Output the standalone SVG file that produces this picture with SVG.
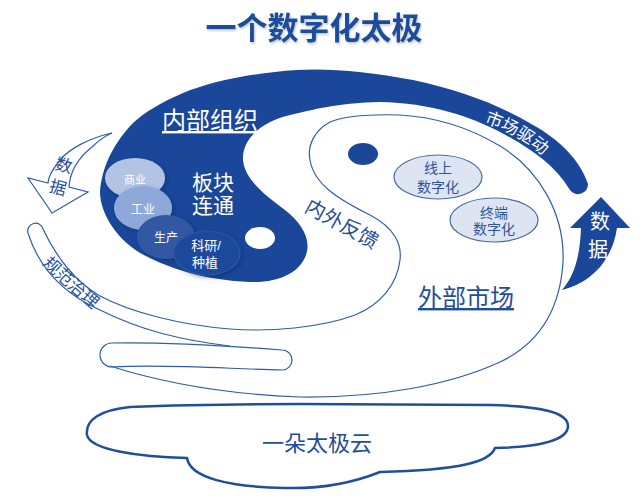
<svg xmlns="http://www.w3.org/2000/svg" width="642" height="498" viewBox="0 0 642 498">
<defs>
<style>
text{font-family:"Liberation Sans","Noto Sans CJK SC",sans-serif;}
.thin{fill:none;stroke:#2f5cb0;stroke-width:1.2;}
.dark{fill:#1a479a;}
.wt{fill:#ffffff;}
.bt{fill:#1f4e9c;}
.lt{fill:#2350a0;}
.sm{fill:#dde5f3;stroke:#4a6aa5;stroke-width:1.2;}
.smt{fill:#2f5597;font-size:14px;text-anchor:middle;}
.ct{fill:#ffffff;text-anchor:middle;}
</style>
<filter id="sh" x="-30%" y="-30%" width="160%" height="160%">
<feDropShadow dx="2" dy="2" stdDeviation="2" flood-color="#102a5c" flood-opacity="0.4"/>
</filter>
<filter id="tsh" x="-10%" y="-30%" width="120%" height="160%">
<feDropShadow dx="1" dy="1.5" stdDeviation="1" flood-color="#000" flood-opacity="0.25"/>
</filter>
<path id="mkt" d="M 452,114 C 497,123 535,141 562,176"/>
<path id="gz" d="M 28,250 Q 62,285 108,322"/>
</defs>

<text id="title" x="314" y="39" text-anchor="middle" font-size="31" font-weight="bold" class="bt" filter="url(#tsh)">一个数字化太极</text>

<g id="outline-yang">
<path class="thin" d="M 110,366 C 160,382 220,394 300,397 C 380,398 450,385 500,362 C 540,343 560,310 563,262 C 565,215 540,170 500,146 C 470,128 435,117 400,115 C 370,114 345,116 330,122 C 315,130 307,145 310,160 C 314,185 340,200 370,215 C 395,228 402,245 400,260 C 397,285 380,305 355,315 C 320,328 270,332 230,329 C 180,325 130,312 100,296 C 75,282 55,255 43,229 A 7,7 0 0 0 28,233 C 38,265 60,292 100,310 C 140,330 180,340 230,346"/>
</g>

<g id="pill">
<path class="thin" fill="#fff" d="M 112,343 C 170,342 230,346 282,350 A 10,10 0 0 1 282,370 C 230,369 170,364 112,367 A 12,12 0 0 1 112,343 Z"/>
</g>

<g id="yin">
<path class="dark" d="M 570,190 A 10,10 0 0 0 588,184 C 580,160 560,140 533,125 C 500,105 460,90 413,80 C 370,72 330,68 297,70 C 250,73 210,82 183,93 C 160,103 145,112 133,123 C 115,142 102,165 100,192 C 100,215 120,245 150,258 C 175,270 205,280 250,282 C 280,283 300,272 306,255 C 312,238 300,222 285,210 C 265,195 245,180 243,160 C 242,140 260,122 290,115 C 320,108 340,103 380,102 C 430,103 470,116 500,132 C 530,148 555,165 570,190 Z"/>
<ellipse cx="260" cy="238" rx="15" ry="11" fill="#fff"/>
<text x="210" y="129" font-size="24" class="wt" text-anchor="middle" text-decoration="underline">内部组织</text>
<text x="213" y="190" font-size="21" class="wt" text-anchor="middle">板块</text>
<text x="213" y="213" font-size="21" class="wt" text-anchor="middle">连通</text>
<text font-size="17" class="wt"><textPath href="#mkt" startOffset="52%" text-anchor="middle">市场驱动</textPath></text>
</g>

<g id="yang-dot">
<ellipse cx="363" cy="154" rx="15" ry="11" class="dark"/>
</g>

<g id="node-shangye">
<ellipse cx="135" cy="178" rx="30" ry="20" fill="#b3c3e4" filter="url(#sh)"/>
<text x="135" y="184" font-size="11" class="ct">商业</text>
</g>
<g id="node-gongye">
<ellipse cx="143" cy="208" rx="29" ry="22" fill="#8ea8d9" filter="url(#sh)"/>
<text x="143" y="214" font-size="12" class="ct">工业</text>
</g>
<g id="node-shengchan">
<ellipse cx="166" cy="237" rx="29" ry="22" fill="#3358a3" filter="url(#sh)"/>
<text x="166" y="242" font-size="12" class="ct">生产</text>
</g>
<g id="node-keyan">
<ellipse cx="207" cy="253" rx="33" ry="22" fill="#1d4a9b" stroke="#2d579f" stroke-width="1.2" filter="url(#sh)"/>
<text x="206" y="250" font-size="13" class="ct">科研/</text>
<text x="205" y="267" font-size="13" class="ct">种植</text>
</g>

<g id="node-xianshang">
<ellipse cx="438" cy="177" rx="44" ry="22" class="sm"/>
<text x="438" y="173" class="smt">线上</text>
<text x="438" y="192" class="smt">数字化</text>
</g>
<g id="node-zhongduan">
<ellipse cx="494" cy="220" rx="44" ry="22" class="sm"/>
<text x="494" y="218" class="smt">终端</text>
<text x="494" y="234" class="smt">数字化</text>
</g>

<g id="label-feedback">
<text transform="translate(342,224) rotate(29)" x="0" y="7" font-size="20" class="bt" text-anchor="middle">内外反馈</text>
</g>
<g id="label-market">
<text x="466" y="306" font-size="24" class="bt" text-anchor="middle" text-decoration="underline">外部市场</text>
</g>
<g id="label-guifan">
<text font-size="17" class="lt"><textPath href="#gz" startOffset="50%" text-anchor="middle">规范治理</textPath></text>
</g>

<g id="connectors">
<path d="M 112,133 C 90,138 70,148 60,160 C 52,170 48,178 48,183 L 28,178 L 52,213 L 88,192 L 69,187 C 70,172 78,158 92,147 C 98,141 105,136 112,133 Z" fill="#fff" stroke="#2f5cb0" stroke-width="1.2"/>
<text transform="translate(61,176) rotate(15)" font-size="17" class="lt" text-anchor="middle"><tspan x="0" y="-5">数</tspan><tspan x="0" y="18">据</tspan></text>
<path class="dark" d="M 562,290 C 590,283 612,262 617,228 L 630,228 L 601,197 L 570,228 L 581,228 C 580,255 575,275 562,290 Z"/>
<text font-size="20" class="wt" text-anchor="middle"><tspan x="600" y="229">数</tspan><tspan x="598" y="257">据</tspan></text>
</g>

<g id="cloud">
<path d="M 130,407 C 200,404 260,404 300,404 L 490,405 C 540,406 568,412 568,426 C 568,440 540,447 495,448 C 490,462 460,470 380,472 C 350,484 320,489 285,488 C 230,487 190,478 187,458 C 140,457 90,450 87,435 C 85,420 100,410 130,407 Z" fill="#fff" stroke="#1f4ea0" stroke-width="2.5" stroke-linejoin="miter"/>
<text x="317" y="451" font-size="22" class="bt" text-anchor="middle">一朵太极云</text>
</g>
</svg>
